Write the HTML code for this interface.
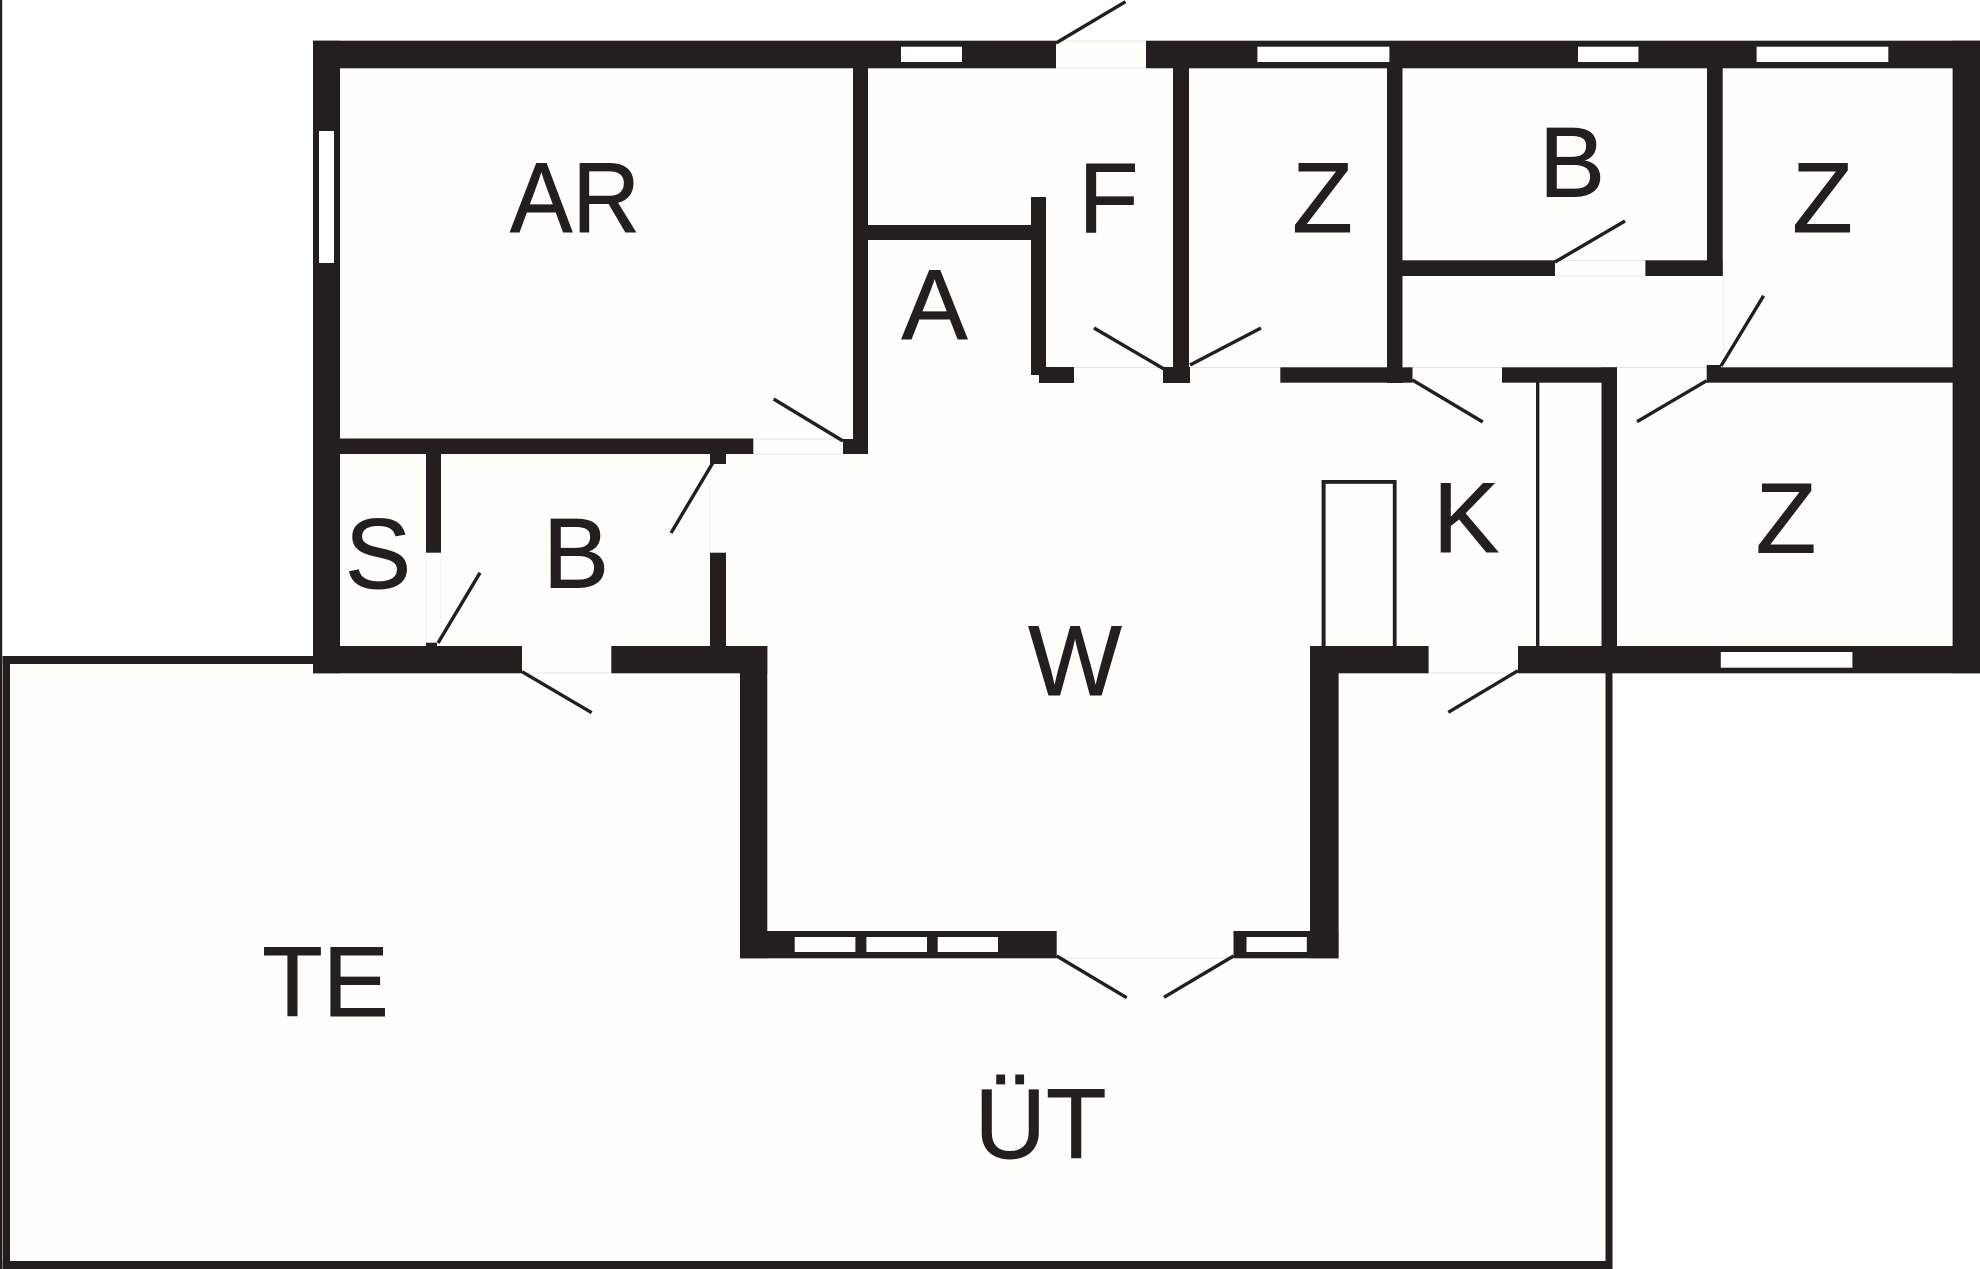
<!DOCTYPE html>
<html><head><meta charset="utf-8"><style>
html,body{margin:0;padding:0;background:#fff}
svg{display:block}
text{font-family:"Liberation Sans",sans-serif;font-size:99px;fill:#231f20;stroke:#231f20;stroke-width:0.9px;text-anchor:middle}
</style></head><body>
<svg xmlns="http://www.w3.org/2000/svg" width="1980" height="1269" viewBox="0 0 1980 1269">
<rect width="1980" height="1269" fill="#fff"/>
<rect x="0" y="0" width="2.2" height="1269" fill="#231f20"/>
<!-- floors -->
<g fill="#fefffa">
<rect x="313" y="40.7" width="1667" height="632.6"/>
<rect x="6" y="660" width="1602" height="605"/>
</g>
<!-- door gap edges -->
<g stroke="#e4e4e0" stroke-width="1" fill="none">
<path d="M1056 41H1146M1056 68H1146M1074 367.5H1163M1190 367.5H1280M1412 367.5H1502M1617 367.5H1707M753 439H843M753 454H843M522 673H611M1428 673H1518M1057 958H1233M1555 260.5H1645M1555 276H1645"/>
<path d="M426 553V643M441 553V643M710 464V553M1723.5 276V367" stroke="#f1f1ec"/>
</g>
<!-- walls -->
<g fill="#231f20">
<rect x="313" y="40.7" width="743" height="27.6"/>
<rect x="1146" y="40.7" width="834" height="27.6"/>
<rect x="313" y="40.7" width="27" height="632.6"/>
<rect x="1952.6" y="40.7" width="27.4" height="632.6"/>
<rect x="313" y="646" width="209" height="27.3"/>
<rect x="611.3" y="646" width="156" height="27.3"/>
<rect x="740" y="646" width="27.3" height="312.3"/>
<rect x="740" y="931" width="316.7" height="27.3"/>
<rect x="1233.5" y="931" width="105.1" height="27.3"/>
<rect x="1310" y="646" width="28.6" height="312.3"/>
<rect x="1310" y="646" width="118.6" height="27.3"/>
<rect x="1518" y="646" width="462" height="27.3"/>
<!-- terrace outline -->
<rect x="2.7" y="656" width="310.3" height="8"/>
<rect x="2.7" y="656" width="7.3" height="613"/>
<rect x="2.7" y="1261" width="1609.8" height="8"/>
<rect x="1605.5" y="673" width="7" height="596"/>
<!-- interior -->
<rect x="853" y="68" width="15" height="386"/>
<rect x="868" y="225" width="164" height="15"/>
<rect x="1031" y="197" width="15" height="178"/>
<rect x="1039" y="367" width="35" height="16"/>
<rect x="1163" y="367" width="27" height="16"/>
<rect x="1173" y="68" width="16" height="300"/>
<rect x="340" y="438.5" width="413.3" height="15.5"/>
<rect x="843" y="439" width="25" height="15"/>
<rect x="426" y="454" width="15" height="98.7"/>
<rect x="426" y="642.7" width="11" height="4"/>
<rect x="710" y="454" width="16" height="10"/>
<rect x="710" y="552.7" width="16" height="94"/>
<rect x="1387" y="68" width="15.5" height="315"/>
<rect x="1707" y="68" width="15.7" height="208"/>
<rect x="1395" y="260.3" width="160" height="15.7"/>
<rect x="1645.4" y="260.3" width="77.3" height="15.7"/>
<rect x="1280.3" y="367.3" width="132.2" height="15.4"/>
<rect x="1502" y="367.3" width="115" height="15.4"/>
<rect x="1601.5" y="367.3" width="15.5" height="280"/>
<rect x="1706.7" y="367.3" width="250" height="15.4"/>
<rect x="1706.7" y="365" width="14.3" height="4"/>
<rect x="1536" y="382" width="3.4" height="265"/>
<!-- fridge -->
<rect x="1321.6" y="480" width="4" height="167"/>
<rect x="1392.8" y="480" width="3.8" height="167"/>
<rect x="1321.6" y="480" width="74.8" height="3.8"/>
</g>
<!-- windows -->
<g fill="#fff">
<rect x="319" y="131" width="15" height="132"/>
<rect x="901" y="46.7" width="61" height="15.3"/>
<rect x="1257.4" y="46.7" width="132" height="15.3"/>
<rect x="1578" y="46.7" width="60.4" height="15.3"/>
<rect x="1756.6" y="46.7" width="131.7" height="15.3"/>
<rect x="1720.8" y="652" width="131.6" height="15.7"/>
<rect x="794.7" y="937" width="60.7" height="15"/>
<rect x="866.4" y="937" width="60.6" height="15"/>
<rect x="937.7" y="937" width="60.3" height="15"/>
<rect x="1246.5" y="937" width="60.3" height="15"/>
</g>
<!-- door leaves -->
<g stroke="#231f20" stroke-width="3.4" fill="none">
<line x1="1056" y1="43" x2="1125.5" y2="1.7"/>
<line x1="1094" y1="328" x2="1164" y2="369"/>
<line x1="1190" y1="365" x2="1261" y2="328"/>
<line x1="773.6" y1="399" x2="843" y2="441"/>
<line x1="438" y1="643" x2="480" y2="572.7"/>
<line x1="712.7" y1="463" x2="671" y2="533"/>
<line x1="522" y1="671.7" x2="591.7" y2="712.7"/>
<line x1="1555" y1="262" x2="1625" y2="221"/>
<line x1="1412.5" y1="380" x2="1482.8" y2="422"/>
<line x1="1706.7" y1="380.7" x2="1637" y2="421.7"/>
<line x1="1721" y1="366" x2="1763.6" y2="295.7"/>
<line x1="1518" y1="670.7" x2="1448.3" y2="712.3"/>
<line x1="1056.7" y1="956" x2="1126.7" y2="997.7"/>
<line x1="1233.5" y1="956" x2="1164" y2="997.3"/>
</g>
<!-- labels -->
<text x="575" y="232" textLength="130" lengthAdjust="spacingAndGlyphs">AR</text>
<text x="1108.5" y="232" textLength="60" lengthAdjust="spacingAndGlyphs">F</text>
<text x="1322.5" y="232">Z</text>
<text x="1572" y="196.5">B</text>
<text x="1822.5" y="232">Z</text>
<text x="934.5" y="339">A</text>
<text x="378" y="588">S</text>
<text x="576" y="587.5">B</text>
<text x="1466" y="552">K</text>
<text x="1786" y="552.5">Z</text>
<text x="1075" y="695">W</text>
<text x="325.5" y="1016">TE</text>
<text x="1040.5" y="1158">ÜT</text>
</svg>
</body></html>
